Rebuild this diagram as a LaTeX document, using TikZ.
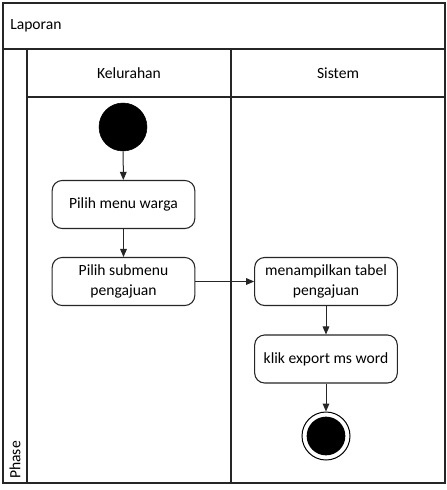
\documentclass[tikz,border=0pt]{standalone}
\usepackage{fontspec}
\setmainfont{Carlito}
\usetikzlibrary{arrows.meta}
\begin{document}
\begin{tikzpicture}[x=0.75pt,y=-0.75pt,
  frame/.style={draw=black!85, line width=0.9pt},
  act/.style={draw=black!85, line width=0.8pt, rounded corners=7.5pt, fill=white, minimum width=107pt, minimum height=36pt, align=center, inner sep=1pt, font=\fontsize{11.7}{15}\selectfont},
  flow/.style={draw=black!85, line width=0.75pt, -{Triangle[length=6pt,width=5pt]}},
  lbl/.style={font=\fontsize{11.7}{15}\selectfont, inner sep=0pt}]
\useasboundingbox (0,0) rectangle (447,490);
\fill[white] (0,0) rectangle (447,490);
% pool frame
\draw[frame] (3,3) rectangle (445,483);
\draw[frame] (3,49) -- (445,49);
\draw[frame] (27,49) -- (27,483);
\draw[frame] (231,49) -- (231,483);
\draw[frame] (27,97) -- (445,97);
\node[lbl, anchor=west] (title) at (10,26) {Laporan};
\node[lbl] (lane1) at (129,73) {Kelurahan};
\node[lbl] (lane2) at (338,73) {Sistem};
\node[lbl, rotate=90, anchor=west] (phase) at (15,479) {Phase};
% nodes
\node[circle, fill=black, draw=black, minimum size=36pt, inner sep=0pt] (start) at (123,127) {};
\node[act] (a1) at (123.5,204.5) {Pilih menu warga};
\node[act] (a2) at (123.5,281.5) {Pilih submenu\\pengajuan};
\node[act] (a3) at (326,281.5) {menampilkan tabel\\pengajuan};
\node[act] (a4) at (326,359) {klik export ms word};
\node[circle, draw=black, line width=0.75pt, fill=white, minimum size=36pt, inner sep=0pt] (end) at (326,436) {};
\node[circle, fill=black, minimum size=29pt, inner sep=0pt] (endin) at (326,436) {};
% flows
\draw[flow] (start) -- (a1);
\draw[flow] (a1) -- (a2);
\draw[flow] (a2) -- (a3);
\draw[flow] (a3) -- (a4);
\draw[flow] (a4) -- (end);
\end{tikzpicture}
\end{document}
